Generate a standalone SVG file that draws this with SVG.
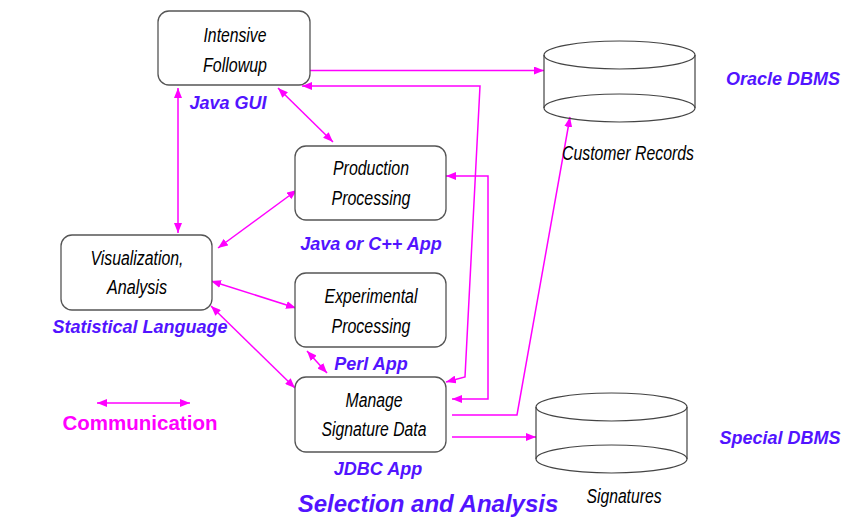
<svg xmlns="http://www.w3.org/2000/svg" width="854" height="522" viewBox="0 0 854 522">
<style>
.box{fill:#fff;stroke:#555;stroke-width:1.3}
.cyl{fill:none;stroke:#444;stroke-width:1.2}
.t{font-family:"Liberation Sans",Arial,sans-serif;font-style:italic;font-size:20.5px;fill:#000;text-anchor:middle}
.lbl{font-family:"Liberation Sans",Arial,sans-serif;font-style:italic;font-weight:bold;font-size:18px;fill:#5214ff;text-anchor:middle}
.c{fill:none;stroke:#ff00ff;stroke-width:1.5}
</style>
<defs>
<marker id="ah" viewBox="0 0 10 8" refX="10" refY="4" markerWidth="10" markerHeight="8" markerUnits="userSpaceOnUse" orient="auto-start-reverse">
<path d="M0,0 L10,4 L0,8 Z" fill="#ff00ff"/>
</marker>
</defs>
<rect width="854" height="522" fill="#fff"/>
<g id="connectors">
<path class="c" d="M307,70.5 H544" marker-end="url(#ah)"/>
<path class="c" d="M302,86 H480 L465,377 L446,382" marker-start="url(#ah)" marker-end="url(#ah)"/>
<path class="c" d="M446,176 H488 V399 H452" marker-start="url(#ah)" marker-end="url(#ah)"/>
<path class="c" d="M452,415 H517 L570,117" marker-end="url(#ah)"/>
<path class="c" d="M452,437 H536" marker-end="url(#ah)"/>
<path class="c" d="M278,88 L333,142" marker-start="url(#ah)" marker-end="url(#ah)"/>
<path class="c" d="M178,88 V233" marker-start="url(#ah)" marker-end="url(#ah)"/>
<path class="c" d="M218,248 L297,190" marker-start="url(#ah)" marker-end="url(#ah)"/>
<path class="c" d="M211,281 L296,308" marker-start="url(#ah)" marker-end="url(#ah)"/>
<path class="c" d="M211,306 L295,388" marker-start="url(#ah)" marker-end="url(#ah)"/>
<path class="c" d="M307,351 L327,373" marker-start="url(#ah)" marker-end="url(#ah)"/>
<path class="c" d="M97,403 H190" marker-start="url(#ah)" marker-end="url(#ah)"/>
</g>
<g id="intensive">
<rect class="box" x="158" y="11" width="152" height="74" rx="11"/>
<text class="t" x="235" y="42" textLength="63" lengthAdjust="spacingAndGlyphs">Intensive</text>
<text class="t" x="235" y="72" textLength="64" lengthAdjust="spacingAndGlyphs">Followup</text>
<text class="lbl" x="228" y="109">Java GUI</text>
</g>
<g id="production">
<rect class="box" x="295" y="146" width="151" height="74" rx="11"/>
<text class="t" x="371" y="175" textLength="76" lengthAdjust="spacingAndGlyphs">Production</text>
<text class="t" x="371" y="205" textLength="79" lengthAdjust="spacingAndGlyphs">Processing</text>
<text class="lbl" x="371" y="250">Java or C++ App</text>
</g>
<g id="visualization">
<rect class="box" x="61" y="235" width="151" height="75" rx="11"/>
<text class="t" x="137" y="265" textLength="93" lengthAdjust="spacingAndGlyphs">Visualization,</text>
<text class="t" x="137" y="294" textLength="60" lengthAdjust="spacingAndGlyphs">Analysis</text>
<text class="lbl" x="140" y="333">Statistical Language</text>
</g>
<g id="experimental">
<rect class="box" x="295" y="273" width="151" height="74" rx="11"/>
<text class="t" x="371" y="303" textLength="93" lengthAdjust="spacingAndGlyphs">Experimental</text>
<text class="t" x="371" y="333" textLength="79" lengthAdjust="spacingAndGlyphs">Processing</text>
<text class="lbl" x="371" y="370">Perl App</text>
</g>
<g id="manage">
<rect class="box" x="295" y="377" width="151" height="75" rx="11"/>
<text class="t" x="374" y="407" textLength="57" lengthAdjust="spacingAndGlyphs">Manage</text>
<text class="t" x="374" y="436" textLength="105" lengthAdjust="spacingAndGlyphs">Signature Data</text>
<text class="lbl" x="378" y="475">JDBC App</text>
</g>
<g id="customer-records">
<path class="cyl" d="M544,55 V108 M695,55 V108"/>
<ellipse class="cyl" cx="619.5" cy="55" rx="75.5" ry="14"/>
<ellipse class="cyl" cx="619.5" cy="108" rx="75.5" ry="14"/>
<text class="t" x="628" y="160" textLength="132" lengthAdjust="spacingAndGlyphs">Customer Records</text>
<text class="lbl" x="783" y="85">Oracle DBMS</text>
</g>
<g id="signatures">
<path class="cyl" d="M536,407 V459 M687,407 V459"/>
<ellipse class="cyl" cx="611.5" cy="407" rx="75.5" ry="14"/>
<ellipse class="cyl" cx="611.5" cy="459" rx="75.5" ry="14"/>
<text class="t" x="624" y="503" textLength="75" lengthAdjust="spacingAndGlyphs">Signatures</text>
<text class="lbl" x="780" y="444">Special DBMS</text>
</g>
<g id="legend">
<text x="140" y="430" font-family="Liberation Sans, Arial, sans-serif" font-weight="bold" font-size="20.5" fill="#ff00ff" text-anchor="middle">Communication</text>
</g>
<text class="lbl" x="428" y="512" style="font-size:24px">Selection and Analysis</text>
</svg>
